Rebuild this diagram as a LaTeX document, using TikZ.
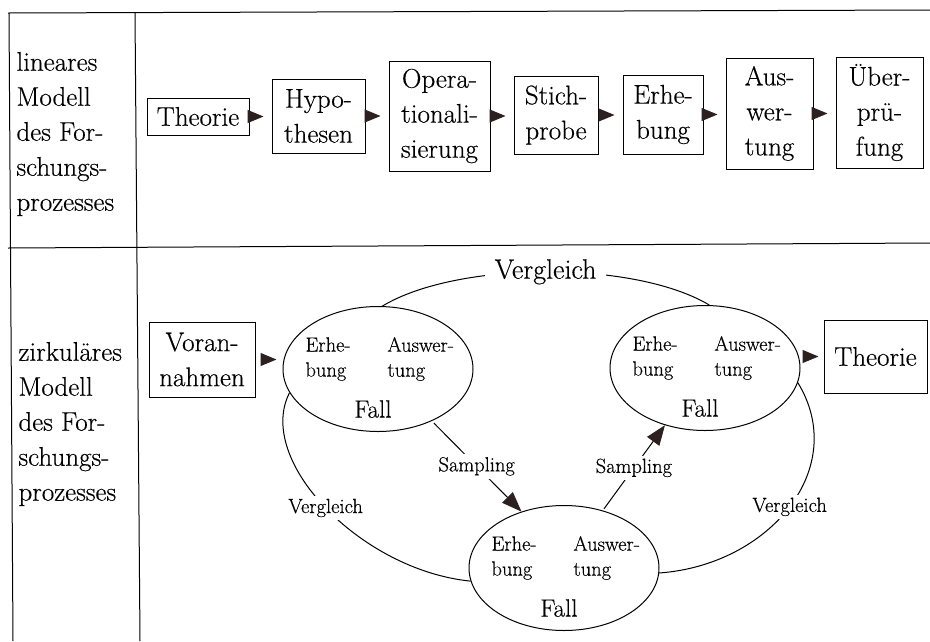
\documentclass[tikz,border=0pt]{standalone}
\usepackage{fontspec}
\setmainfont{Latin Modern Roman}[FakeBold=0.4]
\usetikzlibrary{shapes.geometric,arrows.meta}
\definecolor{tipcol}{RGB}{45,32,32}

\begin{document}
\begin{tikzpicture}[x=1pt,y=-1pt,line width=1pt,
  big/.style={font=\fontsize{27}{35}\selectfont},
  small/.style={font=\fontsize{20.5}{25}\selectfont},
  fallfont/.style={font=\fontsize{25}{28}\selectfont},
  stepbox/.style={draw,big,align=center,inner sep=0pt},
  fall/.style={draw,ellipse,minimum width=190pt,minimum height=125pt,inner sep=0pt},
  flow/.style={-{Triangle[length=16pt,width=13pt,color=tipcol]},shorten >=8pt},
  samp/.style={-{Triangle[length=20pt,width=15pt,color=tipcol]}},
  gaplabel/.style={fill=white,inner sep=3pt},
  sidetext/.style={big,align=left,anchor=west,inner sep=0pt}]

\useasboundingbox (0,0) rectangle (930,641);

% table rules
\draw (8,13) -- (930,10);
\draw (8,248) -- (930,243);
\draw (9,13) -- (13,641);
\draw (135,12) -- (140,641);

% row labels
\node[sidetext] (rowA) at (16,134) {lineares\\Modell\\des For-\\schungs-\\prozesses};
\node[sidetext] (rowB) at (18,424) {zirkuläres\\Modell\\des For-\\schungs-\\prozesses};

% linear model
\node[stepbox,minimum width=102pt,minimum height=37pt]  (th)  at (198,116.5) {Theorie};
\node[stepbox,minimum width=93pt, minimum height=74pt]  (hyp) at (318.5,116) {Hypo-\\thesen};
\node[stepbox,minimum width=101pt,minimum height=110pt] (op)  at (439.5,116) {Opera-\\tionali-\\sierung};
\node[stepbox,minimum width=84pt, minimum height=78pt]  (st)  at (556,115) {Stich-\\probe};
\node[stepbox,minimum width=80pt, minimum height=79pt]  (er)  at (663,114.5) {Erhe-\\bung};
\node[stepbox,minimum width=87pt, minimum height=111pt] (aw)  at (769.5,113.5) {Aus-\\wer-\\tung};
\node[stepbox,minimum width=87pt, minimum height=111pt] (ue)  at (879.5,112.5) {Über-\\prü-\\fung};

\draw[flow] (th.east)  -- (th.east  -| hyp.west);
\draw[flow] (hyp.east) -- (hyp.east -| op.west);
\draw[flow] (op.east)  -- (op.east  -| st.west);
\draw[flow] (st.east)  -- (st.east  -| er.west);
\draw[flow] (er.east)  -- (er.east  -| aw.west);
\draw[flow] (aw.east)  -- (aw.east  -| ue.west);

% circular model
\node[stepbox,minimum width=106pt,minimum height=75pt] (vor) at (202,359.5) {Voran-\\nahmen};
\node[stepbox,minimum width=103pt,minimum height=73pt] (th2) at (875.5,356.5) {Theorie};

\node[fall] (f1) at (378,369) {};
\node[fall] (f2) at (705,368) {};
\node[fall] (f3) at (564,568) {};

\foreach \f in {f1,f2,f3}{
  \node[small,align=left,anchor=west,inner sep=0pt] (\f e) at ([shift={(-73,-10)}]\f.center) {Erhe-\\bung};
  \node[small,align=left,anchor=west,inner sep=0pt] (\f a) at ([shift={(9,-10)}]\f.center) {Auswer-\\tung};
  \node[fallfont,inner sep=0pt] (\f c) at ([shift={(-5,40)}]\f.center) {Fall};
}

\draw[flow,shorten <=5pt,shorten >=6pt] (vor.east) -- (vor.east -| f1.west);
\draw[flow,shorten <=5pt,shorten >=5pt] (th2.west -| f2.east) -- (th2.west);

% comparisons between cases
\draw (f1.86) .. controls (457,261) and (634,260) ..
  node[pos=0.5,fill=white,big,font=\fontsize{28}{30}\selectfont,inner xsep=10pt,inner ysep=1pt] {Vergleich} (f2.86);
\draw (f1.195) .. controls (255,460) and (360,570) ..
  node[pos=0.5,gaplabel,small] {Vergleich} (f3.188);
\draw (f2.351.5) .. controls (850,468) and (770,565) ..
  node[pos=0.5,gaplabel,small] {Vergleich} (f3.357.6);

% sampling
\draw[samp,shorten <=3pt] (f1.-44) -- node[gaplabel,small] {Sampling} (f3.127);
\draw[samp,shorten <=2pt] (f3.56) -- node[gaplabel,small] {Sampling} (f2.235);
\end{tikzpicture}
\end{document}
